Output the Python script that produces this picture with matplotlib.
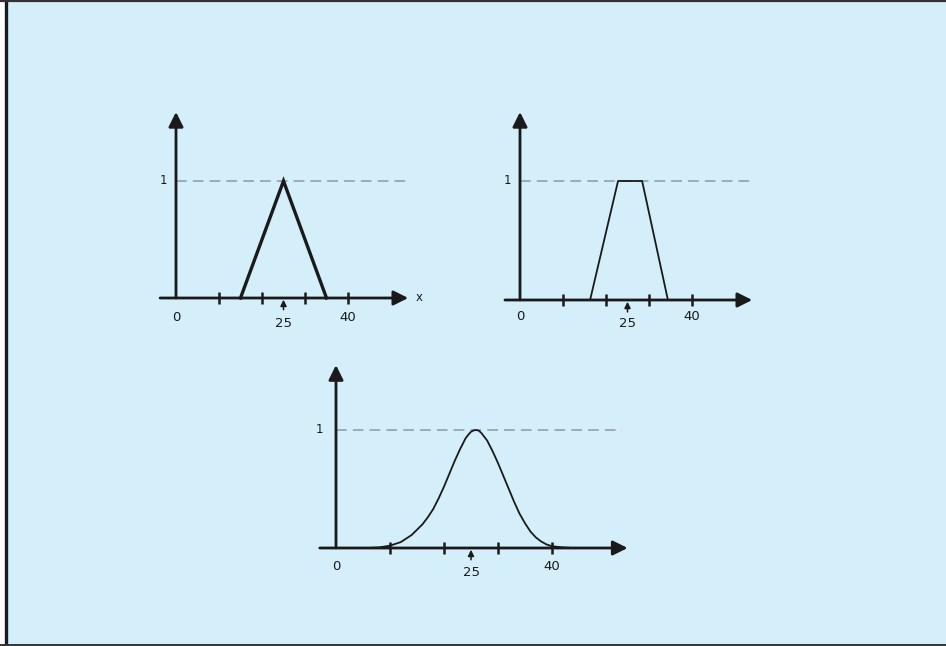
import numpy as np
import matplotlib.pyplot as plt
from matplotlib.patches import Rectangle
from matplotlib.lines import Line2D

# data
tri_x = [15, 25, 35]
tri_y = [0, 1, 0]

trap_x = [12, 16.3, 22.8, 28.4, 34.4, 38]
trap_y = [0, 0, 1, 1, 0, 0]

bell_x = [2, 4, 6, 8, 10, 12, 14, 16, 17, 18, 19, 20, 21, 22, 23, 24, 24.5, 25,
          25.5, 26, 26.5, 27, 28, 29, 30, 31, 32, 33, 34, 35, 36, 37, 38, 39,
          40, 42, 44]
bell_y = [0.0, 0.0, 0.0, 0.005, 0.02, 0.05, 0.11, 0.2, 0.26, 0.33, 0.42, 0.52,
          0.63, 0.74, 0.84, 0.93, 0.96, 0.985, 0.997, 1.0, 0.993, 0.97, 0.91,
          0.82, 0.72, 0.61, 0.5, 0.39, 0.29, 0.21, 0.14, 0.09, 0.055, 0.03,
          0.015, 0.005, 0.0]

tick_pos = [10, 20, 30, 40]
tick_labels = ['0', '25', '40']
tick_label_pos = [0, 25, 40]

W, H = 946, 646
BG = '#d4eefa'
INK = '#1a1a1a'

fig = plt.figure(figsize=(W / 100, H / 100), dpi=100)
fig.patch.set_facecolor('white')
fig.patches.append(Rectangle((5 / W, 0), 1, 1, transform=fig.transFigure,
                             facecolor=BG, edgecolor='none', zorder=-5))
fig.lines.append(Line2D([6 / W, 6 / W], [0, 1], transform=fig.transFigure, color=INK, lw=2.4))
fig.lines.append(Line2D([0, 1], [1 - 1 / H, 1 - 1 / H], transform=fig.transFigure, color='#333', lw=1.6))
fig.lines.append(Line2D([0, 1], [1 / H, 1 / H], transform=fig.transFigure, color='#333', lw=1.4))


def make_axes(ox, oy, sx, sy, xlim, ylim):
    # ox, oy: pixel position of the origin, sx, sy: pixels per unit
    left = ox + xlim[0] * sx
    right = ox + xlim[1] * sx
    top = oy - ylim[1] * sy
    bottom = oy - ylim[0] * sy
    ax = fig.add_axes([left / W, 1 - bottom / H, (right - left) / W, (bottom - top) / H])
    ax.set_xlim(xlim)
    ax.set_ylim(ylim)
    ax.axis('off')
    return ax


def draw_frame(ax, x0, x1, ytop, dash_end, lab_y, lab25_y, show_x=False):
    arrow = dict(arrowstyle='-|>', mutation_scale=22, lw=2.0, color=INK,
                 shrinkA=0, shrinkB=0)
    ax.annotate('', xy=(x1, 0), xytext=(x0, 0), arrowprops=arrow)
    ax.annotate('', xy=(0, ytop), xytext=(0, 0), arrowprops=arrow)
    ax.plot([0, dash_end], [1, 1], color='#8a9aa3', lw=1.1, ls=(0, (7, 4)))
    ax.plot(tick_pos, [0] * len(tick_pos), ls='none', marker='|', ms=9, mew=1.8, color=INK)
    ax.text(-3, 1, '1', ha='center', va='center', fontsize=8.5, color=INK)
    for p, t in zip(tick_label_pos, tick_labels):
        yy = lab25_y if p == 25 else lab_y
        ax.text(p, yy, t, ha='center', va='center', fontsize=9.5, color=INK)
    ax.annotate('', xy=(25, -0.015), xytext=(25, -0.1),
                arrowprops=dict(arrowstyle='-|>', mutation_scale=9, lw=1.1, color=INK,
                                shrinkA=0, shrinkB=0))
    if show_x:
        ax.text(x1 + 2.5, 0, 'x', ha='center', va='center', fontsize=8.5, color=INK)


# top left: triangle
ax1 = make_axes(176, 298, 4.3, 117, (-10, 62), (-0.35, 1.75))
draw_frame(ax1, -3.7, 54, 1.59, 53.5, -0.17, -0.22, show_x=True)
ax1.plot(tri_x, tri_y, color=INK, lw=2.4, solid_joinstyle='miter', zorder=4)

# top right: trapezoid
ax2 = make_axes(520, 300, 4.3, 119, (-10, 62), (-0.35, 1.75))
draw_frame(ax2, -3.5, 54, 1.58, 53.5, -0.14, -0.2)
ax2.plot(trap_x, trap_y, color=INK, lw=1.3, zorder=4)

# bottom: bell curve
ax3 = make_axes(336, 548, 5.4, 118, (-10, 60), (-0.35, 1.75))
draw_frame(ax3, -3, 54, 1.55, 53, -0.16, -0.21)
ax3.plot(bell_x, bell_y, color=INK, lw=1.3, zorder=4)

fig.savefig('out.png', dpi=100, facecolor=fig.get_facecolor())
